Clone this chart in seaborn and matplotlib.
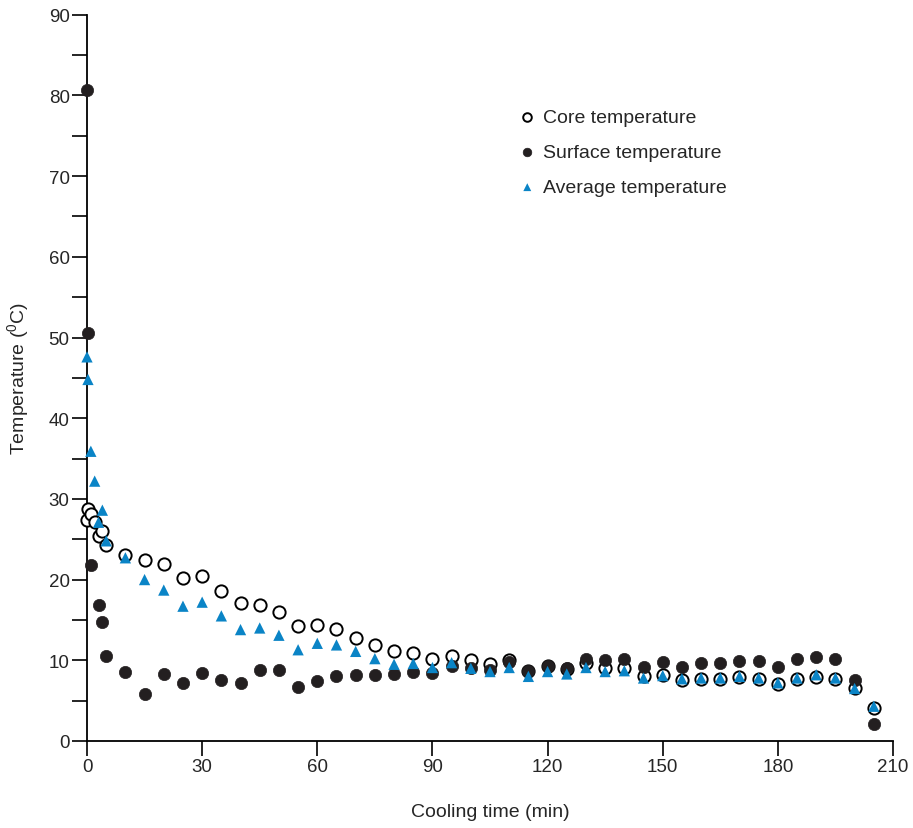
import numpy as np
import pandas as pd
import matplotlib
matplotlib.use("Agg")
import matplotlib.pyplot as plt
import seaborn as sns

# Cooling time (min)
times = [0, 0.25, 1, 2, 3, 4, 5,
         10, 15, 20, 25, 30, 35, 40, 45, 50, 55,
         60, 65, 70, 75, 80, 85, 90, 95, 100, 105,
         110, 115, 120, 125, 130, 135, 140, 145, 150, 155,
         160, 165, 170, 175, 180, 185, 190, 195, 200, 205]

core_temp = [27.4, 28.8, 28.1, 27.1, 25.4, 26.0, 24.3,
             23.1, 22.4, 21.9, 20.2, 20.4, 18.6, 17.1, 16.8, 16.0, 14.2,
             14.4, 13.9, 12.8, 11.9, 11.2, 10.9, 10.2, 10.5, 10.0, 9.5,
             10.0, 8.7, 9.3, 8.9, 9.6, 9.1, 9.1, 8.0, 8.2, 7.6,
             7.7, 7.7, 7.9, 7.7, 7.0, 7.7, 7.9, 7.7, 6.6, 4.1]

surface_temp = [80.7, 50.6, 21.8, np.nan, 16.9, 14.8, 10.5,
                8.6, 5.8, 8.3, 7.2, 8.4, 7.6, 7.2, 8.8, 8.8, 6.7,
                7.4, 8.1, 8.2, 8.2, 8.3, 8.6, 8.4, 9.3, 9.0, 8.8,
                9.8, 8.7, 9.3, 9.1, 10.1, 10.0, 10.1, 9.2, 9.8, 9.2,
                9.6, 9.7, 9.9, 9.9, 9.2, 10.1, 10.4, 10.2, 7.5, 2.1]

average_temp = [47.6, 44.8, 35.9, 32.2, 27.1, 28.6, 24.8,
                22.7, 20.0, 18.7, 16.7, 17.2, 15.5, 13.8, 14.0, 13.1, 11.3,
                12.1, 11.9, 11.1, 10.2, 9.5, 9.6, 9.1, 9.7, 9.0, 8.6,
                9.1, 8.0, 8.6, 8.3, 9.1, 8.6, 8.7, 7.8, 8.1, 7.7,
                7.8, 7.8, 8.0, 7.8, 7.2, 7.8, 8.2, 7.8, 6.5, 4.3]

df = pd.DataFrame({"time": times, "core": core_temp,
                   "surface": surface_temp, "average": average_temp})

sns.set_style("ticks")
plt.rcParams["font.family"] = ["Liberation Sans", "DejaVu Sans"]
plt.rcParams["mathtext.fontset"] = "custom"
plt.rcParams["mathtext.rm"] = "Liberation Sans"

fig = plt.figure(figsize=(9.13, 8.29), dpi=100)
ax = fig.add_axes([0.0953, 0.105, 0.8828, 0.876])

# Core: open circles
sns.scatterplot(data=df, x="time", y="core", ax=ax, marker="o", s=78,
                facecolor="white", edgecolor="black", linewidth=1.4,
                label="Core temperature", zorder=3, clip_on=False)
# Surface: filled circles
sns.scatterplot(data=df, x="time", y="surface", ax=ax, marker="o", s=78,
                color="#231f20", edgecolor="#231f20", linewidth=0.5,
                label="Surface temperature", zorder=4, clip_on=False)
# Average: blue triangles
sns.scatterplot(data=df, x="time", y="average", ax=ax, marker="^", s=66,
                color="#0a84c6", edgecolor="none",
                label="Average temperature", zorder=5, clip_on=False)

ax.set_xlim(0, 210)
ax.set_ylim(0, 90)
ax.set_xticks([0, 30, 60, 90, 120, 150, 180, 210])
ax.set_yticks(np.arange(0, 91, 10))
ax.set_yticks(np.arange(5, 90, 10), minor=True)

ax.tick_params(axis="both", which="both", direction="out", length=10.5,
               width=1.2, color="black", labelsize=13.5, pad=2)

for side in ["left", "bottom"]:
    ax.spines[side].set_linewidth(1.3)
    ax.spines[side].set_color("black")
sns.despine(ax=ax)

ax.set_xlabel("Cooling time (min)", fontsize=14, labelpad=20)
ax.set_ylabel("Temperature ($^{0}$C)", fontsize=14, labelpad=12)

leg = ax.legend(loc="upper left", bbox_to_anchor=(0.539, 0.871),
                frameon=False, fontsize=14, markerscale=0.7,
                handlelength=0.6, handletextpad=0.5, labelspacing=0.9,
                borderaxespad=0, borderpad=0)

fig.savefig("out.png", dpi=100)
